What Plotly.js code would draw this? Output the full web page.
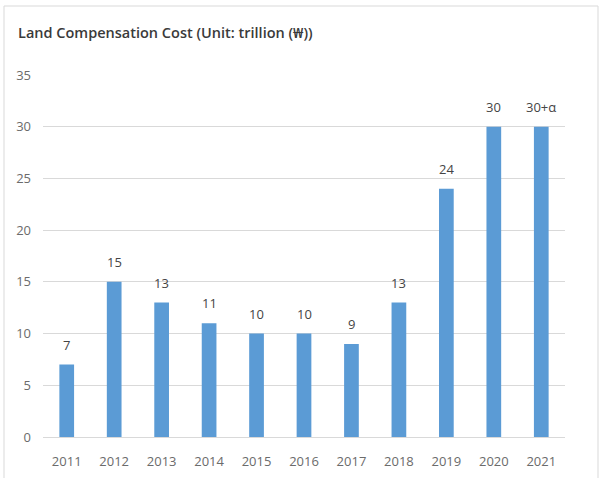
<!DOCTYPE html>
<html>
<head>
<meta charset="utf-8">
<script src="https://cdn.plot.ly/plotly-3.0.1.min.js"></script>
<style>
  html, body { margin: 0; padding: 0; background: #ffffff; }
  #chart { width: 599px; height: 478px; }
</style>
</head>
<body>
<div id="chart"></div>
<script>
// Land compensation cost by year, in trillion won
const years = ['2011', '2012', '2013', '2014', '2015', '2016', '2017', '2018', '2019', '2020', '2021'];
const costs = [7, 15, 13, 11, 10, 10, 9, 13, 24, 30, 30];
const costLabels = ['7', '15', '13', '11', '10', '10', '9', '13', '24', '30', '30+\u03b1'];
const yTicks = [0, 5, 10, 15, 20, 25, 30, 35];

const tickColor = '#6b6b6b';
const labelColor = '#454545';
const fontFamily = '"Open Sans", "Noto Sans", sans-serif';

const bars = {
  type: 'bar',
  x: years,
  y: costs,
  marker: { color: '#5B9BD5' },
  hoverinfo: 'x+y'
};

// value labels sit a little above each bar (category axes take the serial index)
const labels = years.map((yr, i) => ({
  x: i,
  y: costs[i],
  xref: 'x',
  yref: 'y',
  text: costLabels[i],
  showarrow: false,
  yanchor: 'bottom',
  yshift: 9,
  font: { family: fontFamily, size: 13, color: labelColor }
}));

const layout = {
  width: 599,
  height: 478,
  paper_bgcolor: '#ffffff',
  plot_bgcolor: '#ffffff',
  margin: { l: 43, r: 34, t: 75, b: 41, autoexpand: false },
  bargap: 0.69,
  showlegend: false,
  title: {
    text: 'Land Compensation Cost (Unit: trillion (\u20a9))',
    xref: 'container',
    yref: 'container',
    x: 18 / 599,
    xanchor: 'left',
    y: 1 - 33 / 478,
    yanchor: 'middle',
    font: { family: fontFamily, size: 14.5, weight: 600, color: '#3a3a3a' }
  },
  xaxis: {
    type: 'category',
    range: [-0.5, years.length - 0.5],
    showgrid: false,
    showline: false,
    zeroline: false,
    ticks: '',
    ticklabelstandoff: 15,
    tickfont: { family: fontFamily, size: 13, color: tickColor }
  },
  yaxis: {
    range: [0, 35],
    tickvals: yTicks,
    ticktext: yTicks.map(String),
    showgrid: true,
    gridcolor: '#D9D9D9',
    gridwidth: 1,
    zeroline: true,
    zerolinecolor: '#D9D9D9',
    zerolinewidth: 1,
    showline: false,
    ticks: '',
    ticklabelstandoff: 11,
    tickfont: { family: fontFamily, size: 13, color: tickColor }
  },
  annotations: labels,
  shapes: [{
    // light frame around the chart area
    type: 'rect',
    xref: 'paper',
    yref: 'paper',
    x0: (4 - 43) / 522,
    x1: (598 - 43) / 522,
    y0: (437 - 490) / 362,
    y1: (437 - 6) / 362,
    line: { color: '#D9D9D9', width: 1 },
    fillcolor: 'rgba(0,0,0,0)',
    layer: 'below'
  }]
};

Plotly.newPlot('chart', [bars], layout, { displayModeBar: false, staticPlot: true });
</script>
</body>
</html>
